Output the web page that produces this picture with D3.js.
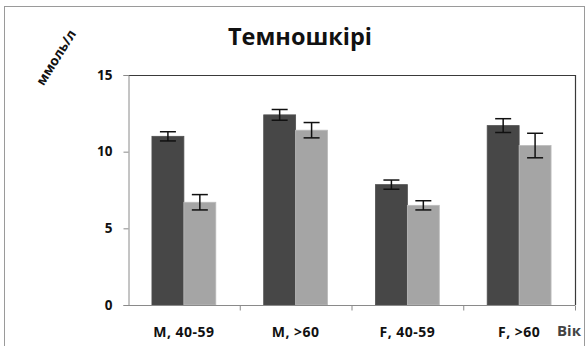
<!DOCTYPE html>
<html>
<head>
<meta charset="utf-8">
<script src="https://cdn.jsdelivr.net/npm/d3@7"></script>
<style>
  html, body { margin: 0; padding: 0; background: #fff; }
  svg { display: block; }
</style>
</head>
<body>
<svg id="chart" width="588" height="346"></svg>
<script>
// Age/sex groups on the x axis
const categories = ["M, 40-59", "M, >60", "F, 40-59", "F, >60"];
// Two series per group: mean values (mmol/l) and their error half-widths
const seriesA = [11.0, 12.4, 7.85, 11.7];
const errorA = [0.3, 0.35, 0.3, 0.45];
const seriesB = [6.7, 11.4, 6.5, 10.4];
const errorB = [0.5, 0.5, 0.3, 0.8];
const yTicks = [0, 5, 10, 15];

const series = [
  { key: "a", values: seriesA, errors: errorA, color: "#474747" },
  { key: "b", values: seriesB, errors: errorB, color: "#a5a5a5" }
];

const svg = d3.select("#chart");
const font = "'Open Sans', Lato, sans-serif";

// outer frame
svg.append("rect")
  .attr("x", 4.5).attr("y", 6.5)
  .attr("width", 580).attr("height", 360)
  .attr("fill", "none").attr("stroke", "#9a9a9a").attr("stroke-width", 1);

const plot = { left: 128, right: 575, top: 75, bottom: 305 };

const x = d3.scaleBand()
  .domain(categories)
  .range([plot.left, plot.right])
  .paddingInner(0).paddingOuter(0);

const xSub = d3.scaleBand()
  .domain(series.map(s => s.key))
  .range([0, x.bandwidth()])
  .paddingInner(0)
  .paddingOuter(0.75);

const y = d3.scaleLinear().domain([0, 15]).range([plot.bottom, plot.top]);

// plot frame: top and right edges
svg.append("line")
  .attr("x1", plot.left).attr("x2", plot.right)
  .attr("y1", y(15) + 0.5).attr("y2", y(15) + 0.5)
  .attr("stroke", "#3a3a3a").attr("stroke-width", 1.2);
svg.append("line")
  .attr("x1", plot.right + 0.5).attr("x2", plot.right + 0.5)
  .attr("y1", plot.top).attr("y2", plot.bottom)
  .attr("stroke", "#3a3a3a").attr("stroke-width", 1.2);

// bars
const groups = svg.append("g").selectAll("g")
  .data(categories)
  .join("g")
  .attr("transform", d => `translate(${x(d)},0)`);

series.forEach(s => {
  groups.append("rect")
    .attr("x", xSub(s.key))
    .attr("width", xSub.bandwidth())
    .attr("y", (d, i) => y(s.values[i]))
    .attr("height", (d, i) => y(0) - y(s.values[i]))
    .attr("fill", s.color)
    .attr("stroke", d3.color(s.color).brighter(0.35))
    .attr("stroke-width", 0.8);
});

// error bars
series.forEach(s => {
  const cx = xSub(s.key) + xSub.bandwidth() / 2;
  const cap = 8;
  groups.each(function (d, i) {
    const g = d3.select(this);
    const hi = y(s.values[i] + s.errors[i]);
    const lo = y(s.values[i] - s.errors[i]);
    g.append("line").attr("x1", cx).attr("x2", cx).attr("y1", hi).attr("y2", lo)
      .attr("stroke", "#111").attr("stroke-width", 1.5);
    g.append("line").attr("x1", cx - cap).attr("x2", cx + cap).attr("y1", hi).attr("y2", hi)
      .attr("stroke", "#111").attr("stroke-width", 1.5);
    g.append("line").attr("x1", cx - cap).attr("x2", cx + cap).attr("y1", lo).attr("y2", lo)
      .attr("stroke", "#111").attr("stroke-width", 1.5);
  });
});

// y axis
const yAxis = svg.append("g")
  .attr("transform", `translate(${plot.left + 0.5},0)`)
  .call(d3.axisLeft(y).tickValues(yTicks).tickSize(5).tickPadding(11).tickFormat(d3.format("d")));
yAxis.select(".domain").attr("stroke", "#8a8a8a");
yAxis.selectAll(".tick line").attr("stroke", "#8a8a8a");
yAxis.selectAll("text")
  .attr("font-family", font).attr("font-weight", 700).attr("font-size", 13.5)
  .attr("fill", "#111");

// x axis: tick marks sit on category boundaries
const xAxis = svg.append("g")
  .attr("transform", `translate(0,${plot.bottom + 0.5})`);
xAxis.append("line")
  .attr("x1", plot.left).attr("x2", plot.right)
  .attr("stroke", "#8a8a8a");
xAxis.selectAll("line.tick")
  .data(categories)
  .join("line").attr("class", "tick")
  .attr("x1", d => x(d) + x.bandwidth() + 0.5)
  .attr("x2", d => x(d) + x.bandwidth() + 0.5)
  .attr("y1", 0).attr("y2", 5)
  .attr("stroke", "#8a8a8a");
xAxis.selectAll("text")
  .data(categories)
  .join("text")
  .attr("x", d => x(d) + x.bandwidth() / 2)
  .attr("y", 31)
  .attr("text-anchor", "middle")
  .attr("font-family", font).attr("font-weight", 700).attr("font-size", 14)
  .attr("letter-spacing", 0.5)
  .attr("fill", "#111")
  .text(d => d);

// x axis title
svg.append("text")
  .attr("x", 569).attr("y", 336)
  .attr("text-anchor", "middle")
  .attr("font-family", font).attr("font-weight", 700).attr("font-size", 15)
  .attr("fill", "#444")
  .text("Вік");

// y axis unit, written diagonally
svg.append("text")
  .attr("transform", "translate(60,60) rotate(-58)")
  .attr("text-anchor", "middle")
  .attr("font-family", font).attr("font-weight", 700).attr("font-size", 13.5)
  .attr("fill", "#111")
  .text("ммоль/л");

// chart title
svg.append("text")
  .attr("x", 300).attr("y", 45)
  .attr("text-anchor", "middle")
  .attr("font-family", font).attr("font-weight", 700).attr("font-size", 23.5)
  .attr("fill", "#111")
  .text("Темношкірі");
</script>
</body>
</html>
